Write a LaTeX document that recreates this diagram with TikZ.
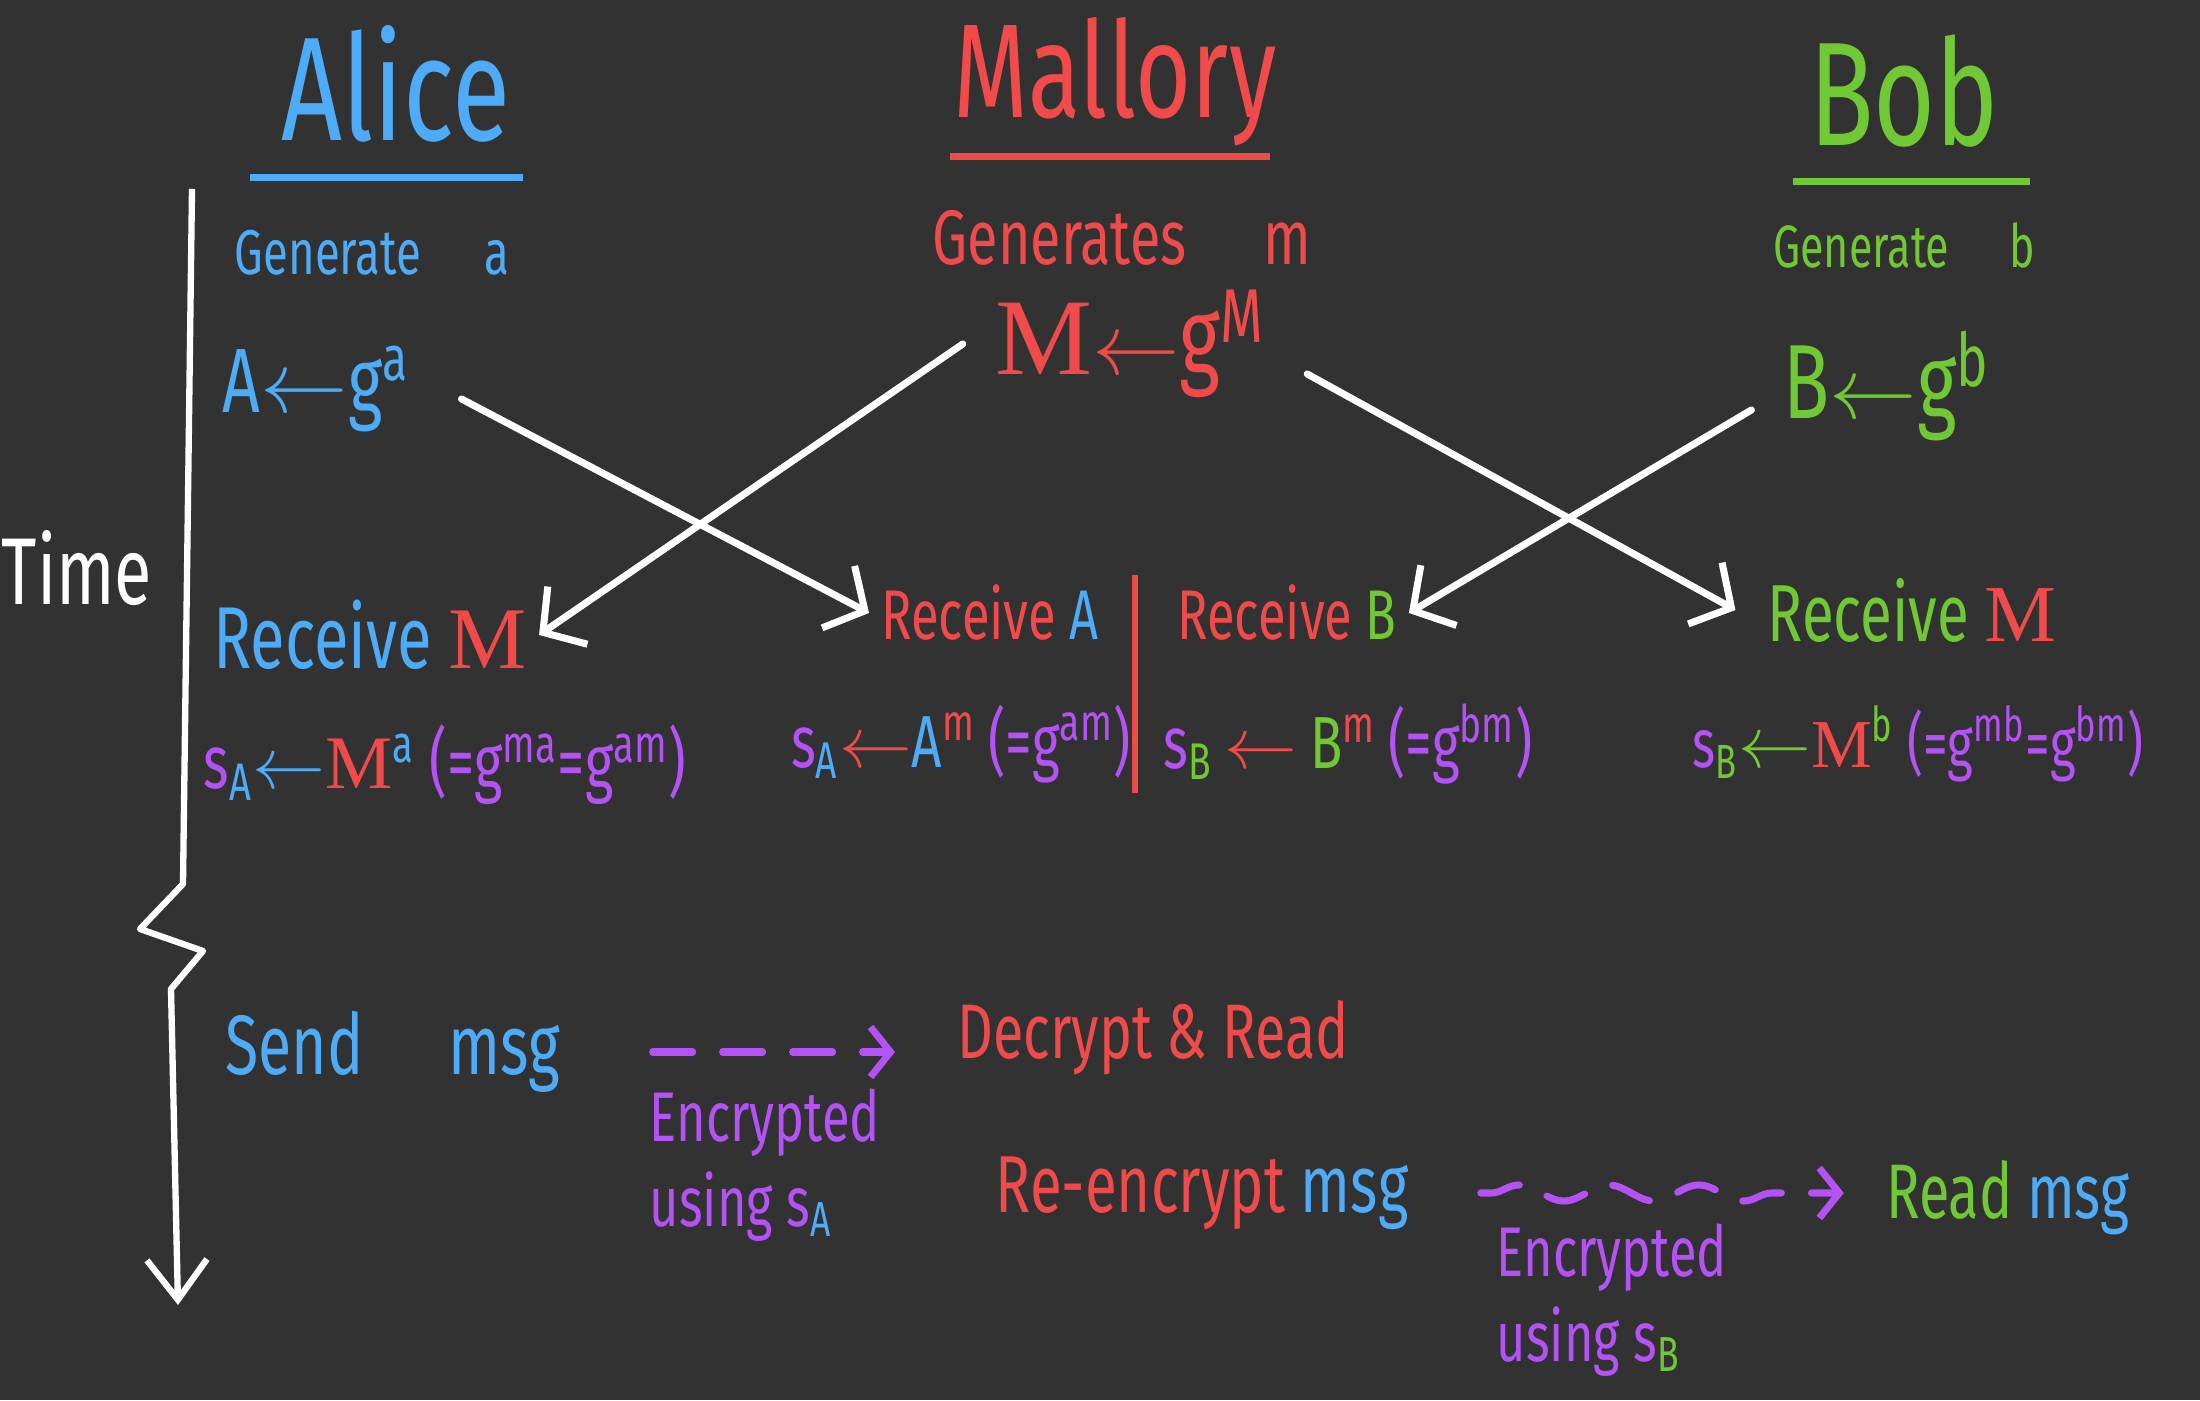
\documentclass[tikz,border=0pt]{standalone}
\usepackage{fontspec}
\setmainfont{Fira Sans}[FakeStretch=0.72]
\newfontfamily\serifM{Liberation Serif}
\usetikzlibrary{arrows.meta}
\usetikzlibrary{decorations.pathmorphing}
\definecolor{board}{RGB}{50,50,50}
\definecolor{cB}{RGB}{77,171,247}
\definecolor{cR}{RGB}{240,74,74}
\definecolor{cG}{RGB}{112,200,52}
\definecolor{cP}{RGB}{180,82,245}
\newcommand{\bigM}{{\serifM M}}

\begin{document}
\begin{tikzpicture}[
	title/.style={font=\fontsize{42}{48}\selectfont},
	gen/.style={font=\fontsize{18}{22}\selectfont},
	key/.style={font=\fontsize{26}{30}\selectfont},
	recv/.style={font=\fontsize{22}{26}\selectfont},
	big/.style={font=\fontsize{22}{26}\selectfont},
	note/.style={font=\fontsize{20}{24}\selectfont, text=cP, align=left},
	wire/.style={white, line width=2pt, line cap=round, -{Straight Barb[length=3mm,width=7mm]}},
	secret/.style={cP, line width=2pt, line cap=round, dash pattern=on 4mm off 3mm, -{Straight Barb[length=2mm,width=5mm]}}]
	\fill [board] (0,0) rectangle (22,14);
	\useasboundingbox (0,0) rectangle (22,14);
	% names on top
	\node [title, text=cB] (alice) at (3.96,13.16) {Alice};
	\node [title, text=cR, font=\fontsize{38}{44}\selectfont] (mallory) at (11.15,13.18) {Mallory};
	\node [title, text=cG] (bob) at (19.04,13.09) {Bob};
	\draw [cB, line width=2pt] (2.50,12.22) -- (5.23,12.22);
	\draw [cR, line width=2pt] (9.50,12.43) -- (12.70,12.43);
	\draw [cG, line width=2pt] (17.93,12.18) -- (20.30,12.18);
	\node [gen, text=cB] (gena) at (3.72,11.47) {Generate\quad a};
	\node [gen, text=cR, font=\fontsize{22}{26}\selectfont] (genm) at (11.22,11.62) {Generates\quad m};
	\node [gen, text=cG, font=\fontsize{17}{21}\selectfont] (genb) at (19.04,11.55) {Generate\quad b};
	\node [key, text=cB] (ga) at (3.16,10.11) {A$\leftarrow$g\textsuperscript{a}};
	\node [key, text=cR, font=\fontsize{31}{35}\selectfont] (gm) at (11.30,10.56) {\bigM$\leftarrow$g\textsuperscript{M}};
	\node [key, text=cG, font=\fontsize{30}{34}\selectfont] (gb) at (18.87,10.14) {B$\leftarrow$g\textsuperscript{b}};
	% time axis
	\node [text=white, font=\fontsize{27}{31}\selectfont] (time) at (0.77,8.32) {Time};
	\draw [white, line width=1.8pt, line join=round, -{Straight Barb[length=4mm,width=6mm]}] (1.92,12.11) -- (1.83,5.16) -- (1.40,4.71) -- (2.03,4.49) -- (1.71,4.11) -- (1.78,0.95);
	% receiving
	\node [recv, text=cB, font=\fontsize{25}{29}\selectfont] (recvMa) at (3.70,7.65) {Receive {\color{cR}\bigM}};
	\node [recv, text=cR, font=\fontsize{20}{24}\selectfont] (recvA) at (9.90,7.87) {Receive {\color{cB}A}};
	\node [recv, text=cR, font=\fontsize{20}{24}\selectfont] (recvB) at (12.87,7.87) {Receive {\color{cG}B}};
	\node [recv, text=cG, font=\fontsize{23}{27}\selectfont] (recvMb) at (19.12,7.90) {Receive {\color{cR}\bigM}};
	\draw [cR, line width=1.5pt] (11.35,8.25) -- (11.35,6.07);
	\draw [wire] ([xshift=4mm,yshift=-1mm]ga.east) -- (recvA.west);
	\draw [wire] ([xshift=-2mm]gm.west) -- (recvMa.east);
	\draw [wire] ([xshift=3mm,yshift=-3mm]gm.east) -- ([xshift=-2mm]recvMb.west);
	\draw [wire] ([xshift=-2mm,yshift=-2.4mm]gb.west) -- (recvB.east);
	% shared secrets
	\node [recv, text=cP, font=\fontsize{21.5}{25}\selectfont] (sA) at (4.45,6.35) {s\textsubscript{\color{cB}A}{\color{cB}$\leftarrow$}{\color{cR}\bigM}\textsuperscript{\color{cB}a}\ (=g\textsuperscript{ma}=g\textsuperscript{am})};
	\node [recv, text=cP, font=\fontsize{21}{25}\selectfont] (sAm) at (9.61,6.56) {s\textsubscript{\color{cB}A}{\color{cR}$\leftarrow$}{\color{cB}A}\textsuperscript{\color{cR}m}\,(=g\textsuperscript{am})};
	\node [recv, text=cP, font=\fontsize{21}{25}\selectfont] (sBm) at (13.48,6.56) {s\textsubscript{\color{cG}B}\,{\color{cR}$\leftarrow$}\,{\color{cG}B}\textsuperscript{\color{cR}m}\,(=g\textsuperscript{bm})};
	\node [recv, text=cP, font=\fontsize{19.5}{23}\selectfont] (sB) at (19.18,6.56) {s\textsubscript{\color{cG}B}{\color{cG}$\leftarrow$}{\color{cR}\bigM}\textsuperscript{\color{cG}b}\ (=g\textsuperscript{mb}=g\textsuperscript{bm})};
	% messages
	\node [recv, text=cB, font=\fontsize{24}{28}\selectfont] (send) at (3.93,3.48) {Send\quad msg};
	\node [big, text=cR] (decrypt) at (11.53,3.62) {Decrypt \& Read};
	\node [note] (encA) at (7.65,2.35) {Encrypted\\using s\textsubscript{\color{cB}A}};
	\node [big, text=cR, font=\fontsize{23}{27}\selectfont] (reenc) at (12.02,2.07) {Re-encrypt {\color{cB}msg}};
	\node [big, text=cG] (read) at (20.08,2.02) {Read {\color{cB}msg}};
	\node [note] (encB) at (16.12,1.00) {Encrypted\\using s\textsubscript{\color{cG}B}};
	\draw [secret] ([xshift=8mm]send.east) -- ([xshift=-5mm]send.east -| decrypt.west);
	\draw [secret, decorate, decoration={snake, amplitude=0.8mm, segment length=9mm, pre length=1mm, post length=4mm}] ([xshift=6mm]reenc.east) -- ([xshift=-3mm]reenc.east -| read.west);
\end{tikzpicture}
\end{document}
